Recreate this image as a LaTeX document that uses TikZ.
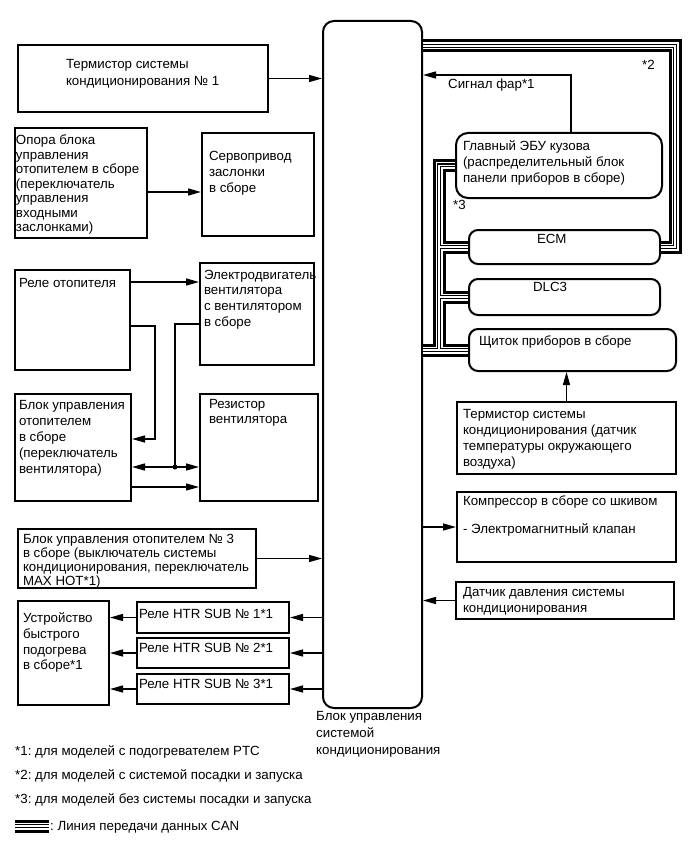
\documentclass[tikz,border=0pt]{standalone}
\usepackage{fontspec}
\setmainfont{Liberation Sans}
\usetikzlibrary{arrows.meta,calc}
\frenchspacing
% width, height, left pad, top pad, text
\newcommand{\boxtxt}[5]{\parbox[c][#2pt][t]{#1pt}{\vskip#4pt\leftskip=#3pt\rightskip=0pt plus 1fil minus 300pt\parindent=0pt\rule{0pt}{9pt}#5}}

\begin{document}
\begin{tikzpicture}[x=1pt,y=-1pt,
  unit/.style={draw,line width=2pt,inner sep=0pt,anchor=north west,font=\fontsize{13.3}{15.5}\selectfont},
  runit/.style={unit,rounded corners=9pt},
  note/.style={inner sep=0pt,anchor=base west,font=\fontsize{13.3}{15.5}\selectfont},
  arrow/.style={-{Triangle[length=13pt,width=7pt]},line width=1.4pt},
  wire/.style={line width=1.4pt}
]
  \useasboundingbox (0,0) rectangle (689,853);

  % control unit
  \node[runit,rounded corners=11pt,minimum width=99pt,minimum height=687pt] (acu) at (322,20) {};
  \node[note,anchor=north west,align=left,font=\fontsize{13.3}{17}\selectfont] (acul) at (316,711) {Блок управления\\системой\\кондиционирования};

  % left side
  \node[unit,font=\fontsize{13.3}{17}\selectfont] (therm1) at (17,44) {\boxtxt{250}{67}{48}{14}{Термистор системы\\кондиционирования № 1}};
  \node[unit,font=\fontsize{13.3}{14.5}\selectfont] (flap) at (14,127) {\boxtxt{132}{110}{1}{7}{Опора блока\\управления\\отопителем в сборе\\(переключатель\\управления\\входными\\заслонками)}};
  \node[unit,font=\fontsize{13.3}{16}\selectfont] (servo) at (201,132) {\boxtxt{112}{103}{7}{18}{Сервопривод\\заслонки\\в сборе}};
  \node[unit] (rele) at (14,269) {\boxtxt{115}{100}{4}{8}{Реле отопителя}};
  \node[unit,font=\fontsize{13.3}{15.7}\selectfont] (motor) at (199,262) {\boxtxt{114}{102}{4}{7}{Электродвигатель\\вентилятора\\с вентилятором\\в сборе}};
  \node[unit,font=\fontsize{13.3}{16}\selectfont] (ctrl) at (14,393) {\boxtxt{116}{107}{4}{6}{Блок управления\\отопителем\\в сборе\\(переключатель\\вентилятора)}};
  \node[unit,font=\fontsize{13.3}{15}\selectfont] (resist) at (199,393) {\boxtxt{118}{107}{9}{5}{Резистор\\вентилятора}};
  \node[unit,font=\fontsize{13.3}{14}\selectfont] (ctrl3) at (17,528) {\boxtxt{238}{59}{5}{5}{Блок управления отопителем № 3\\в сборе (выключатель системы\\кондиционирования, переключатель\\MAX HOT*1)}};
  \node[unit,font=\fontsize{13.3}{15.7}\selectfont] (boost) at (17,600) {\boxtxt{91}{104}{5}{12}{Устройство\\быстрого\\подогрева\\в сборе*1}};
  \node[unit] (sub1) at (136,601) {\boxtxt{152}{31}{2}{7}{Реле HTR SUB № 1*1}};
  \node[unit] (sub2) at (136,637) {\boxtxt{152}{30}{2}{5}{Реле HTR SUB № 2*1}};
  \node[unit] (sub3) at (136,673) {\boxtxt{152}{30}{2}{5}{Реле HTR SUB № 3*1}};

  % right side
  \node[runit,rounded corners=12pt,font=\fontsize{13.3}{16}\selectfont] (gebu) at (455,132) {\boxtxt{206}{65}{7}{8}{Главный ЭБУ кузова\\(распределительный блок\\панели приборов в сборе)}};
  \node[runit] (ecm) at (468,229) {\boxtxt{191}{34}{68}{4}{ECM}};
  \node[runit] (dlc) at (468,278) {\boxtxt{191}{36}{64}{3}{DLC3}};
  \node[runit] (shch) at (468,328) {\boxtxt{207}{42}{10}{7}{Щиток приборов в сборе}};
  \node[unit,font=\fontsize{13.3}{16}\selectfont] (therm2) at (456,401) {\boxtxt{219}{72}{6}{7}{Термистор системы\\кондиционирования (датчик\\температуры окружающего\\воздуха)}};
  \node[unit] (comp) at (456,491) {\boxtxt{219}{70}{6}{4}{Компрессор в сборе со шкивом\\[12.5pt]- Электромагнитный клапан}};
  \node[unit,font=\fontsize{13.3}{16}\selectfont] (press) at (455,581) {\boxtxt{218}{37}{7}{5}{Датчик давления системы\\кондиционирования}};

  \node[note] (sig) at (448,89) {Сигнал фар*1};
  \node[note] (n2) at (642,70) {*2};
  \node[note] (n3) at (453,209) {*3};

  % notes
  \node[note] (fn1) at (15,755) {*1: для моделей с подогревателем PTC};
  \node[note] (fn2) at (15,779) {*2: для моделей с системой посадки и запуска};
  \node[note] (fn3) at (15,803) {*3: для моделей без системы посадки и запуска};
  \node[note] (leg) at (50,830) {: Линия передачи данных CAN};

  % CAN lines
  \coordinate (canT) at (675,46);
  \coordinate (canL) at (439,0);
  \coordinate (lgA) at (15,826);
  \coordinate (lgB) at (49,826);
  \foreach \w/\c in {13/black,7/white,4/black,1.5/white}{
    \draw[line width=\w pt,\c] (acu.east |- canT) -- (canT) -- (canT |- ecm.east) -- (ecm.east);
    \draw[line width=\w pt,\c] (acu.east |- shch.west) -- (shch.west);
    \draw[line width=\w pt,\c] (canL |- shch.west) -- (canL |- gebu.west) -- (gebu.west);
    \draw[line width=\w pt,\c] (canL |- ecm.west) -- (ecm.west);
    \draw[line width=\w pt,\c] (canL |- dlc.west) -- (dlc.west);
    \draw[line width=\w pt,\c] (lgA) -- (lgB);
  }

  % signals
  \draw[arrow] (therm1.east) -- (acu.west |- therm1.east);
  \draw[arrow] (flap.east |- 0,192) -- (servo.west |- 0,192);
  \draw[arrow] (ctrl3.east) -- (acu.west |- ctrl3.east);
  \foreach \s in {sub1,sub2,sub3}{
    \draw[arrow] (acu.west |- \s.east) -- (\s.east);
    \draw[arrow] (\s.west) -- (boost.east |- \s.west);
  }

  \coordinate (sigc) at (571,75);
  \draw[arrow] (gebu.north -| sigc) -- (sigc) -- (acu.east |- sigc);
  \draw[arrow] (therm2.north) -- (therm2.north |- shch.south);
  \draw[arrow] (acu.east |- comp.west) -- (comp.west);
  \draw[arrow] (press.west) -- (acu.east |- press.west);

  % heater wiring
  \coordinate (w1) at (155,326);
  \coordinate (w2) at (155,439);
  \coordinate (w3) at (175,324);
  \coordinate (jd) at (175,467);
  \draw[arrow] (rele.east |- 0,282) -- (motor.west |- 0,282);
  \draw[arrow] (rele.east |- w1) -- (w1) -- (w2) -- (ctrl.east |- w2);
  \draw[wire] (motor.west |- w3) -- (w3) -- (jd);
  \draw[arrow,{Triangle[length=13pt,width=7pt]}-{Triangle[length=13pt,width=7pt]}] (ctrl.east |- jd) -- (resist.west |- jd);
  \fill (jd) circle (2.5pt);
  \draw[arrow] (ctrl.east |- 0,487) -- (resist.west |- 0,487);
\end{tikzpicture}
\end{document}
